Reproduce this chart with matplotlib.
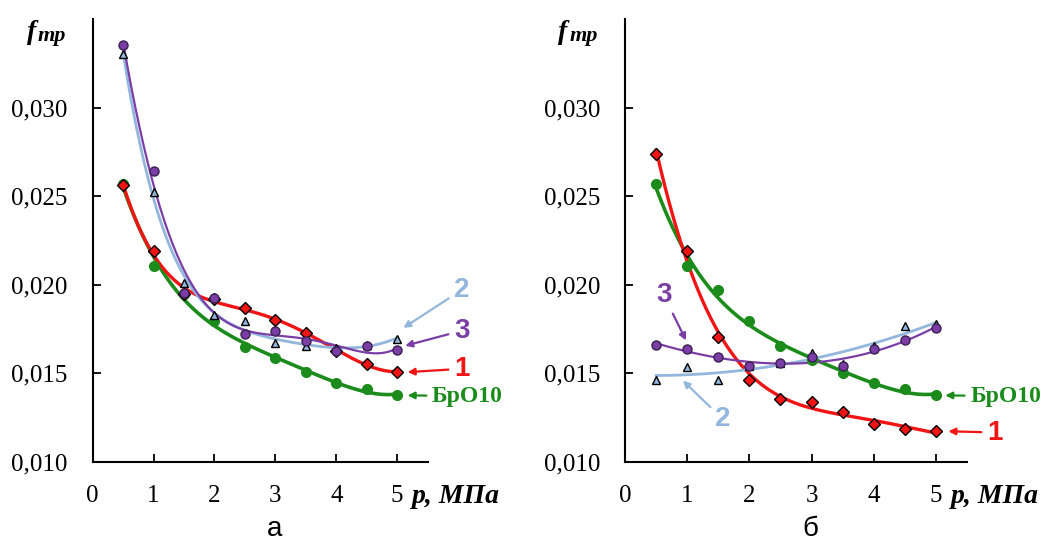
import numpy as np
import matplotlib
matplotlib.use("Agg")
import matplotlib.pyplot as plt

# pressure, MPa
p = [0.5, 1.0, 1.5, 2.0, 2.5, 3.0, 3.5, 4.0, 4.5, 5.0]

# panel "а"
a_bro10 = [0.02567, 0.02107, 0.01949, 0.01794, 0.01646, 0.01587, 0.01508, 0.01447, 0.01409, 0.01375]
a_1 = [0.02561, 0.02190, 0.01950, 0.01919, 0.01866, 0.01800, 0.01727, 0.01626, 0.01553, 0.01506]
a_2 = [0.03302, 0.02522, 0.02008, 0.01830, 0.01794, 0.01672, 0.01652, 0.01642, 0.01662, 0.01696]
a_3 = [0.03352, 0.02644, 0.01953, 0.01923, 0.01721, 0.01741, 0.01680, 0.01623, 0.01652, 0.01632]

# panel "б"
b_bro10 = [0.02567, 0.02103, 0.01968, 0.01794, 0.01652, 0.01573, 0.01504, 0.01445, 0.01409, 0.01375]
b_1 = [0.02739, 0.02190, 0.01706, 0.01464, 0.01356, 0.01340, 0.01283, 0.01213, 0.01184, 0.01172]
b_2 = [0.01464, 0.01534, 0.01464, 0.01543, 0.01560, 0.01617, 0.01550, 0.01652, 0.01765, 0.01780]
b_3 = [0.01662, 0.01636, 0.01593, 0.01538, 0.01559, 0.01593, 0.01540, 0.01636, 0.01690, 0.01757]

GREEN = "#1b8c1b"
RED = "#f01414"
PURPLE = "#7a3ea6"
LBLUE = "#93b6dc"

SERIF = ["Liberation Serif", "DejaVu Serif"]
SANS = ["Liberation Sans", "DejaVu Sans"]


def trend(ax, y, deg, color, lw, marker, ms, mfc, mec):
    x = np.array(p)
    c = np.polyfit(x, y, deg)
    xs = np.linspace(x[0], x[-1], 200)
    ax.plot(xs, np.polyval(c, xs), color=color, lw=lw, zorder=2)
    ax.plot(x, y, ls="none", marker=marker, ms=ms, mfc=mfc, mec=mec,
            mew=1.0, zorder=3)


def tag(ax, text, xy, xytext, color, sans=True, size=20):
    fam = SANS if sans else SERIF
    ax.annotate(text, xy=xy, xytext=xytext, color=color, fontsize=size,
                fontweight="bold", family=fam, ha="left", va="center",
                annotation_clip=False,
                arrowprops=dict(arrowstyle="-|>", color=color, lw=1.6,
                                mutation_scale=10, shrinkA=2, shrinkB=0))


def frame(ax, letter):
    ax.set_xlim(0, 5.5)
    ax.set_ylim(0.010, 0.035)
    for s in ("top", "right"):
        ax.spines[s].set_visible(False)
    for s in ("left", "bottom"):
        ax.spines[s].set_linewidth(1.5)
    ax.set_xticks([0, 1, 2, 3, 4, 5])
    ax.set_yticks([0.010, 0.015, 0.020, 0.025, 0.030])
    ax.set_yticklabels(["0,010", "0,015", "0,020", "0,025", "0,030"])
    ax.tick_params(direction="in", length=6, width=1.3, labelsize=18)
    ax.tick_params(axis="y", pad=18)
    ax.tick_params(axis="x", pad=17)
    for lab in ax.get_xticklabels() + ax.get_yticklabels():
        lab.set_family(SERIF)
    ax.text(-1.08, 0.0339, "f", family=SERIF, style="italic",
            fontweight="bold", fontsize=20, ha="left", va="baseline",
            clip_on=False)
    ax.text(-0.90, 0.03375, "тр", family=SERIF, style="italic",
            fontweight="bold", fontsize=16, ha="left", va="baseline",
            clip_on=False)
    ax.text(5.25, 0.00805, "p, МПа", family=SERIF, style="italic",
            fontweight="bold", fontsize=20, ha="left", va="center",
            clip_on=False)
    ax.text(2.98, 0.0058, letter, family=SANS, fontsize=20, ha="center",
            va="baseline", clip_on=False)


fig = plt.figure(figsize=(10.47, 5.49), dpi=100)
ax1 = fig.add_axes([0.0885, 0.159, 0.320, 0.806])
ax2 = fig.add_axes([0.597, 0.159, 0.3266, 0.806])

# panel a
trend(ax1, a_bro10, 4, GREEN, 2.6, "o", 7, GREEN, GREEN)
trend(ax1, a_1, 5, RED, 2.4, "D", 6.5, RED, "black")
trend(ax1, a_2, 5, LBLUE, 2.0, "^", 6, LBLUE, "black")
trend(ax1, a_3, 5, PURPLE, 1.6, "o", 6.5, PURPLE, "#3a2050")
frame(ax1, "а")
tag(ax1, "2", (5.1, 0.01756), (5.93, 0.0197), LBLUE)
tag(ax1, "3", (5.13, 0.01655), (5.93, 0.0174), PURPLE)
tag(ax1, "1", (5.17, 0.01506), (5.93, 0.01525), RED)
tag(ax1, "БрО10", (5.17, 0.01375), (5.57, 0.0137), GREEN, sans=False, size=17)

# panel b
trend(ax2, b_bro10, 4, GREEN, 2.6, "o", 7, GREEN, GREEN)
trend(ax2, b_1, 4, RED, 2.4, "D", 6.5, RED, "black")
trend(ax2, b_2, 2, LBLUE, 2.0, "^", 6, LBLUE, "black")
trend(ax2, b_3, 3, PURPLE, 1.6, "o", 6.5, PURPLE, "#3a2050")
frame(ax2, "б")
tag(ax2, "3", (0.98, 0.01685), (0.5, 0.0194), PURPLE)
tag(ax2, "2", (0.93, 0.01458), (1.45, 0.0124), LBLUE)
tag(ax2, "БрО10", (5.15, 0.01375), (5.55, 0.0137), GREEN, sans=False, size=17)
tag(ax2, "1", (5.2, 0.01172), (5.82, 0.01165), RED)

fig.savefig("out.png", dpi=100)
